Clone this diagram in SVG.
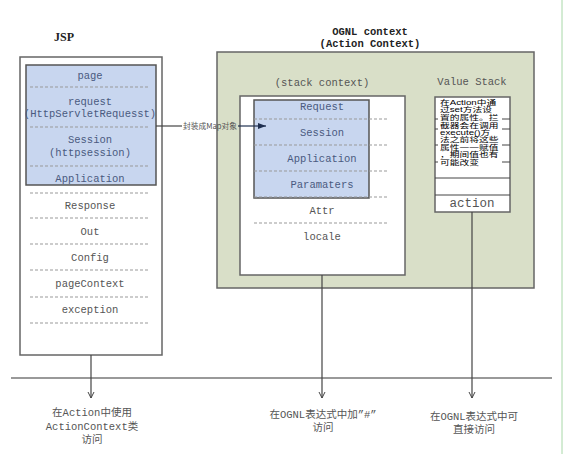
<svg xmlns="http://www.w3.org/2000/svg" width="580" height="454" viewBox="0 0 580 454">
<defs>
<style>
.box{fill:#fff;stroke:#666;stroke-width:1.5}
.blue{fill:#c8d6ef;stroke:#555;stroke-width:1.5}
.dash{stroke:#999;stroke-width:1;stroke-dasharray:3 2}
.t{font-family:"Liberation Mono","Noto Sans CJK SC",monospace;font-size:10.5px;fill:#555;text-anchor:middle}
.tb{fill:#4a5a80}
.title{font-family:"Liberation Mono","Noto Sans CJK SC",monospace;font-size:10.5px;font-weight:bold;fill:#222;text-anchor:middle}
.cn{font-family:"Liberation Sans","Noto Sans CJK SC",sans-serif;font-size:6.5px;fill:#000}
.line{stroke:#444;stroke-width:1.2;fill:none}
</style>
<marker id="open" markerUnits="userSpaceOnUse" markerWidth="10" markerHeight="10" refX="6" refY="0" orient="auto" overflow="visible">
<path d="M0,-3 L6,0 L0,3" fill="none" stroke="#444" stroke-width="1"/>
</marker>
<marker id="solid" markerUnits="userSpaceOnUse" markerWidth="10" markerHeight="10" refX="8" refY="0" orient="auto" overflow="visible">
<path d="M0,-3 L8,0 L0,3 Z" fill="#1f2f50"/>
</marker>
</defs>
<rect width="580" height="454" fill="#fff"/>
<line x1="562" y1="0" x2="562" y2="454" stroke="#a8d8a8" stroke-width="1"/>

<g id="jsp">
<text x="64" y="41" font-family="Liberation Serif,serif" font-size="12" font-weight="bold" text-anchor="middle" fill="#222">JSP</text>
<rect class="box" x="20" y="57" width="142" height="298"/>
<rect class="blue" x="26" y="65" width="130" height="120"/>
<g class="dash">
<line x1="30" y1="87" x2="150" y2="87"/>
<line x1="30" y1="127" x2="150" y2="127"/>
<line x1="30" y1="166" x2="150" y2="166"/>
<line x1="30" y1="193" x2="150" y2="193"/>
<line x1="30" y1="218" x2="150" y2="218"/>
<line x1="30" y1="244" x2="150" y2="244"/>
<line x1="30" y1="270" x2="150" y2="270"/>
<line x1="30" y1="297" x2="150" y2="297"/>
<line x1="30" y1="323" x2="150" y2="323"/>
</g>
<g class="t">
<text class="tb" x="90" y="79">page</text>
<text class="tb" x="90" y="105">request</text>
<text class="tb" x="90" y="117">(HttpServletRequesst)</text>
<text class="tb" x="90" y="143">Session</text>
<text class="tb" x="90" y="156">(httpsession)</text>
<text class="tb" x="90" y="182">Application</text>
<text x="90" y="209">Response</text>
<text x="90" y="235">Out</text>
<text x="90" y="261">Config</text>
<text x="90" y="287">pageContext</text>
<text x="90" y="313">exception</text>
</g>
</g>

<g id="ognl">
<text class="title" x="370" y="35">OGNL context</text>
<text class="title" x="370" y="47">(Action Context)</text>
<rect x="217" y="52" width="317" height="236" fill="#d9dfc8" stroke="#666" stroke-width="1.5"/>
</g>

<g id="stack-context">
<text class="t" x="322" y="86" fill="#444">(stack context)</text>
<rect class="box" x="240" y="96" width="165" height="179"/>
<rect class="blue" x="254" y="100" width="115" height="98"/>
<g class="dash">
<line x1="254" y1="119" x2="388" y2="119"/>
<line x1="254" y1="145" x2="388" y2="145"/>
<line x1="254" y1="171" x2="388" y2="171"/>
<line x1="254" y1="197" x2="388" y2="197"/>
<line x1="254" y1="223" x2="388" y2="223"/>
</g>
<g class="t">
<text class="tb" x="322" y="110">Request</text>
<text class="tb" x="322" y="136">Session</text>
<text class="tb" x="322" y="162">Application</text>
<text class="tb" x="322" y="188">Paramaters</text>
<text x="322" y="214">Attr</text>
<text x="322" y="240">locale</text>
</g>
</g>

<g id="value-stack">
<text class="t" x="472" y="85" fill="#666">Value Stack</text>
<rect class="box" x="435" y="97" width="75" height="115"/>
<g stroke="#444" stroke-width="1">
<line x1="435" y1="119" x2="510" y2="119"/>
<line x1="435" y1="129" x2="510" y2="129"/>
<line x1="435" y1="145" x2="510" y2="145"/>
<line x1="435" y1="162" x2="510" y2="162"/>
<line x1="435" y1="178" x2="510" y2="178"/>
<line x1="435" y1="195" x2="510" y2="195"/>
</g>
<rect x="438" y="98" width="64" height="68" fill="#fff"/>
<g transform="translate(440,0) scale(1.5,1)" class="cn">
<text x="0" y="105">在Action中通</text>
<text x="0" y="112.5">过set方法设</text>
<text x="0" y="120">置的属性。拦</text>
<text x="0" y="127.5">截器会在调用</text>
<text x="0" y="135">execute()方</text>
<text x="0" y="142.5">法之前将这些</text>
<text x="0" y="150">属性一一赋值</text>
<text x="0" y="157.5">，期间值也有</text>
<text x="0" y="165">可能改变</text>
</g>
<text x="472" y="207" font-family="Liberation Mono,monospace" font-size="12.5" text-anchor="middle" fill="#555">action</text>
</g>

<line x1="11" y1="378" x2="552" y2="378" stroke="#777" stroke-width="1.5"/>

<g id="connectors">
<line class="line" x1="156" y1="126" x2="182" y2="126"/>
<text x="210" y="129" font-family="Noto Sans CJK SC,sans-serif" font-size="8" text-anchor="middle" fill="#555" textLength="54" lengthAdjust="spacingAndGlyphs">封装成Map对象</text>
<line x1="238" y1="126" x2="266" y2="126" stroke="#1f2f50" stroke-width="1.2" marker-end="url(#solid)"/>
<line class="line" x1="91" y1="355" x2="91" y2="398" marker-end="url(#open)"/>
<line class="line" x1="322" y1="275" x2="322" y2="398" marker-end="url(#open)"/>
<line class="line" x1="472" y1="212" x2="472" y2="398" marker-end="url(#open)"/>
</g>

<g id="labels" class="t">
<text x="92" y="416">在Action中使用</text>
<text x="92" y="430">ActionContext类</text>
<text x="92" y="443">访问</text>
<text x="323" y="418">在OGNL表达式中加”#”</text>
<text x="323" y="431">访问</text>
<text x="474" y="420">在OGNL表达式中可</text>
<text x="474" y="433">直接访问</text>
</g>
</svg>
